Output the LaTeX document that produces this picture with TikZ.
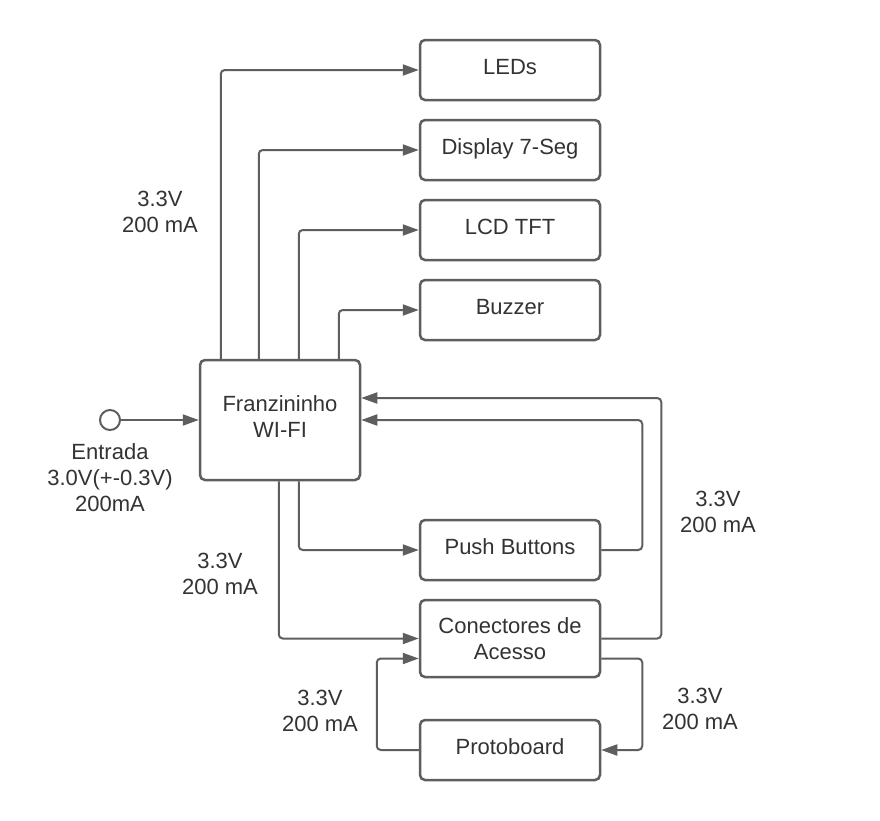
\documentclass[tikz,border=0pt]{standalone}
\usepackage{fontspec}
\setmainfont{Liberation Sans}
\usetikzlibrary{arrows.meta}
\definecolor{ln}{HTML}{5E5E5E}
\definecolor{tx}{HTML}{333333}
\begin{document}
\begin{tikzpicture}[x=1pt,y=-1pt,
  box/.style={draw=ln, line width=2.5pt, rounded corners=5pt, minimum width=180pt, minimum height=60pt,
    font=\fontsize{22}{26}\selectfont, text=tx, align=center, inner sep=0pt},
  lift/.style={text depth=7pt},
  conn/.style={draw=ln, line width=2pt, rounded corners=4pt, -{Triangle[length=16pt,width=11pt]}},
  lbl/.style={text=tx, align=center, font=\fontsize{22}{26}\selectfont}]
\useasboundingbox (0,0) rectangle (880,820);
\fill[white] (0,0) rectangle (880,820);

\node[box, lift] (leds) at (510,70) {LEDs};
\node[box, lift] (disp) at (510,150) {Display 7-Seg};
\node[box, lift] (lcd) at (510,230) {LCD TFT};
\node[box, lift] (buzz) at (510,310) {Buzzer};
\node[box, lift, minimum width=160pt, minimum height=120pt] (franz) at (280,420) {Franzininho\\WI-FI};
\node[box, lift] (push) at (510,550) {Push Buttons};
\node[box, minimum height=77pt] (con) at (510,638.5) {Conectores de\\Acesso};
\node[box, lift] (proto) at (510,750) {Protoboard};

\node[draw=ln, line width=2pt, circle, minimum size=20pt, inner sep=0pt] (in) at (110,420) {};
\node[lbl] (inlbl) at (110,478) {Entrada\\3.0V(+-0.3V)\\200mA};

\draw[conn] ([xshift=22pt]franz.north west) |- (leds.west);
\draw[conn] ([xshift=60pt]franz.north west) |- (disp.west);
\draw[conn] ([xshift=100pt]franz.north west) |- (lcd.west);
\draw[conn] ([xshift=140pt]franz.north west) |- (buzz.west);
\draw[conn] (in) -- (franz.west);
\draw[conn] ([xshift=100pt]franz.south west) |- (push.west);
\draw[conn] ([xshift=80pt]franz.south west) |- (con.west);
\draw[conn] (push.east) -- ++(41,0) |- (franz.east);
\draw[conn] (con.east) -- ++(60,0) |- ([yshift=22pt]franz.east);
\draw[conn] ([yshift=-20pt]con.east) -- ++(41,0) |- (proto.east);
\draw[conn] (proto.west) -- ++(-42,0) |- ([yshift=-20pt]con.west);

\node[lbl] (l1) at (160,212) {3.3V\\200 mA};
\node[lbl] (l2) at (220,574) {3.3V\\200 mA};
\node[lbl] (l3) at (718,512) {3.3V\\200 mA};
\node[lbl] (l4) at (320,711) {3.3V\\200 mA};
\node[lbl] (l5) at (700,709) {3.3V\\200 mA};
\end{tikzpicture}
\end{document}
